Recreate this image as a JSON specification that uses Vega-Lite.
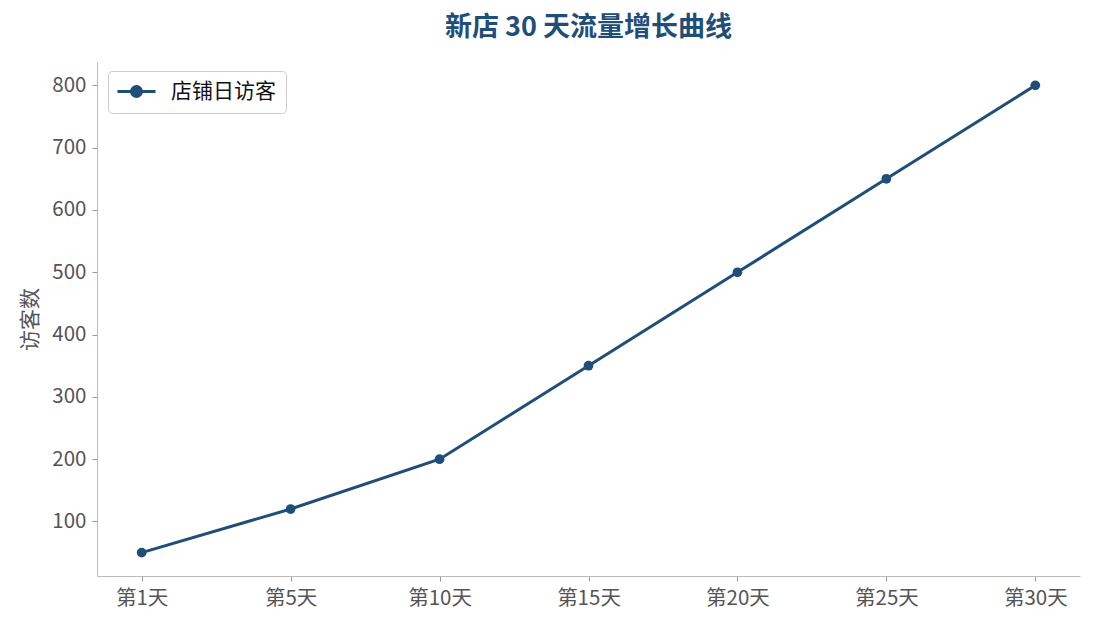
{
  "$schema": "https://vega.github.io/schema/vega-lite/v6.json",
  "autosize": "none",
  "width": 983,
  "height": 514,
  "padding": {"left": 97, "top": 62, "right": 15, "bottom": 53},
  "config": {
    "font": "Noto Sans CJK SC",
    "view": {"stroke": null},
    "axis": {
      "grid": false,
      "domainColor": "#bbbbbb",
      "tickColor": "#999999",
      "labelColor": "#555555",
      "titleColor": "#555555",
      "labelFontSize": 20.5,
      "titleFontSize": 21,
      "titleFontWeight": "normal",
      "tickSize": 5
    }
  },
  "title": {
    "text": "新店 30 天流量增长曲线",
    "fontSize": 27,
    "fontWeight": "bold",
    "color": "#1f4e79",
    "offset": 20
  },
  "data": {
    "values": [
      {"day": "第1天", "visitors": 50, "series": "店铺日访客"},
      {"day": "第5天", "visitors": 120, "series": "店铺日访客"},
      {"day": "第10天", "visitors": 200, "series": "店铺日访客"},
      {"day": "第15天", "visitors": 350, "series": "店铺日访客"},
      {"day": "第20天", "visitors": 500, "series": "店铺日访客"},
      {"day": "第25天", "visitors": 650, "series": "店铺日访客"},
      {"day": "第30天", "visitors": 800, "series": "店铺日访客"}
    ]
  },
  "encoding": {
    "x": {
      "field": "day",
      "type": "ordinal",
      "sort": null,
      "scale": {"type": "point", "padding": 0.3},
      "axis": {"title": null, "labelAngle": 0, "labelPadding": 7}
    },
    "y": {
      "field": "visitors",
      "type": "quantitative",
      "scale": {"domain": [12.5, 837.5], "nice": false, "zero": false},
      "axis": {
        "title": "访客数",
        "values": [100, 200, 300, 400, 500, 600, 700, 800],
        "labelPadding": 6,
        "titlePadding": 11
      }
    }
  },
  "layer": [
    {
      "mark": {"type": "line", "strokeWidth": 3},
      "encoding": {
        "color": {
          "field": "series",
          "type": "nominal",
          "scale": {"range": ["#1f4e79"]},
          "legend": {
            "title": null,
            "orient": "none",
            "legendX": 11,
            "legendY": 9,
            "symbolType": "M-1.56,0H3.82M1.84,0A0.71,0.71,0,1,1,0.42,0A0.71,0.71,0,1,1,1.84,0Z",
            "symbolSize": 200,
            "symbolStrokeWidth": 3,
            "symbolFillColor": "#1f4e79",
            "labelFontSize": 21,
            "labelColor": "#111111",
            "labelOffset": 32,
            "strokeColor": "#cccccc",
            "fillColor": "white",
            "cornerRadius": 4,
            "padding": 10
          }
        }
      }
    },
    {
      "mark": {"type": "point", "filled": true, "size": 95, "opacity": 1, "color": "#1f4e79"}
    }
  ]
}
